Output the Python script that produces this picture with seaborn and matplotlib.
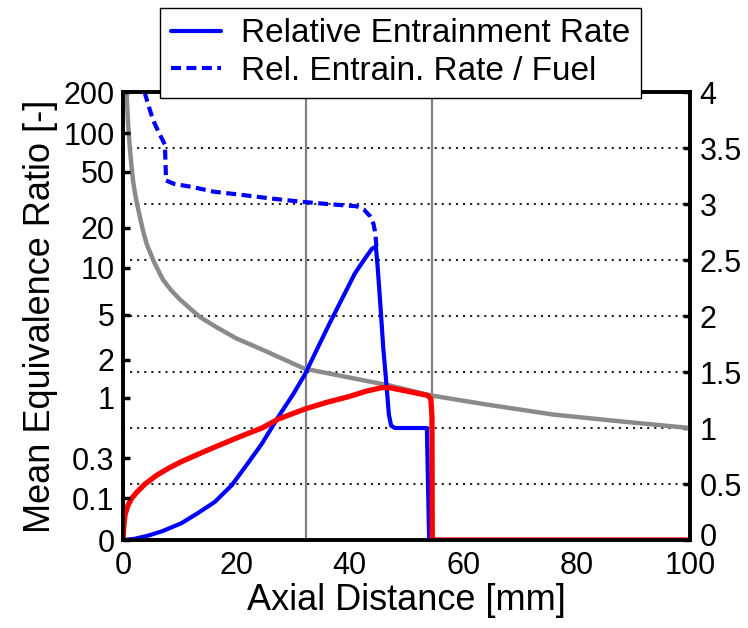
import matplotlib
matplotlib.use("Agg")
import matplotlib.pyplot as plt
import matplotlib.transforms as mtransforms
import seaborn as sns
import pandas as pd
from matplotlib.lines import Line2D

# ---------------- data (right-axis units 0..4, x in mm) ----------------
x_rate = [0, 2, 4.5, 7, 10.3, 13.2, 16.2, 19.2, 22.1, 24.5, 26.2, 27.4, 30, 32.1, 34, 36.5,
          38.5, 40.9, 42.5, 43.9, 44.6, 44.9, 45.4, 45.9, 46.5, 46.9, 47.3, 48.0, 50,
          53.6, 54.0, 60, 80, 100]
rate = [0, 0.01, 0.04, 0.08, 0.15, 0.24, 0.34, 0.49, 0.69, 0.86, 1.0, 1.10, 1.3, 1.48, 1.68, 1.94,
        2.14, 2.38, 2.5, 2.6, 2.62, 2.45, 2.1, 1.72, 1.37, 1.12, 1.02, 1.0, 1.0,
        1.0, 0, 0, 0, 0]

x_rate_fuel = [3.8, 4.5, 5.3, 6.3, 7.4, 7.6, 9, 12.4, 16, 21.2, 26, 31.5, 36, 41.2, 42.5,
               43.6, 44.2, 44.5, 44.7]
rate_fuel = [4.0, 3.88, 3.75, 3.64, 3.53, 3.21, 3.18, 3.15, 3.11, 3.08, 3.05, 3.02, 3.0, 2.98, 2.95,
             2.89, 2.82, 2.74, 2.62]

x_phi = [0.35, 0.65, 0.9, 1.2, 1.5, 1.8, 2.1, 2.4, 3.0, 3.6, 4.2, 5.5, 7.1, 8.5, 10, 12, 13.6,
         16.5, 20, 25, 32, 40, 47, 54.4, 64.1, 75.9, 87.6, 100]
phi = [4.15, 3.97, 3.72, 3.51, 3.34, 3.2, 3.1, 3.02, 2.88, 2.75, 2.64, 2.48, 2.32, 2.23, 2.15, 2.06,
       1.99, 1.90, 1.80, 1.69, 1.53, 1.45, 1.38, 1.29, 1.21, 1.12, 1.06, 1.0]

x_red = [0, 0.15, 0.35, 0.8, 1.5, 2.5, 3.9, 6, 8, 10.3, 13, 16.2, 20, 24.5, 27.4, 32.1, 36,
         39.8, 43, 45.6, 47, 50, 53.8, 54.3, 54.5, 54.55, 60, 80, 100]
red = [0, 0.12, 0.22, 0.3, 0.37, 0.43, 0.5, 0.58, 0.64, 0.70, 0.76, 0.83, 0.91, 1.0, 1.08, 1.17, 1.23,
       1.28, 1.33, 1.36, 1.36, 1.33, 1.29, 1.26, 1.1, 0, 0, 0, 0]

vline_mm = [32.2, 54.5]
x_ticks = [0, 20, 40, 60, 80, 100]
right_ticks = [0, 0.5, 1, 1.5, 2, 2.5, 3, 3.5, 4]
right_labels = ["0", "0.5", "1", "1.5", "2", "2.5", "3", "3.5", "4"]
left_labels = ["0", "0.1", "0.3", "1", "2", "5", "10", "20", "50", "100", "200"]
left_pos = [0, 0.375, 0.73, 1.27, 1.61, 2.01, 2.43, 2.79, 3.29, 3.63, 4.0]
legend_labels = ["Relative Entrainment Rate", "Rel. Entrain. Rate / Fuel"]

# ---------------- style ----------------
sns.set_theme(style="white")
plt.rcParams['font.family'] = ['Liberation Sans', 'DejaVu Sans']
plt.rcParams['text.color'] = 'black'
plt.rcParams['axes.labelcolor'] = 'black'
plt.rcParams['xtick.color'] = 'black'
plt.rcParams['ytick.color'] = 'black'

fig = plt.figure(figsize=(7.48, 6.28), dpi=100)
ax = fig.add_axes([0.1644, 0.1401, 0.7580, 0.7134])
ax2 = ax.twinx()

BLUE = "#0000ff"
RED = "#ff0000"
GRAY = "#8a8a8a"

# vertical reference lines
for v in vline_mm:
    ax.axvline(v, color="#808080", lw=1.6, zorder=1)

# dotted grid lines at right ticks
for t in right_ticks[1:-1]:
    ax.axhline(t, color="#222222", lw=1.5, linestyle=(0, (1, 2.4)), zorder=1)

df_phi = pd.DataFrame({"x": x_phi, "y": phi})
df_rate = pd.DataFrame({"x": x_rate, "y": rate})
df_rf = pd.DataFrame({"x": x_rate_fuel, "y": rate_fuel})
df_red = pd.DataFrame({"x": x_red, "y": red})

sns.lineplot(data=df_phi, x="x", y="y", ax=ax, color=GRAY, lw=3.2, sort=False, estimator=None, zorder=3)
sns.lineplot(data=df_rate, x="x", y="y", ax=ax, color=BLUE, lw=3.0, sort=False, estimator=None, zorder=4)
sns.lineplot(data=df_rf, x="x", y="y", ax=ax, color=BLUE, lw=3.0, sort=False, estimator=None,
             dashes=False, zorder=4).lines[-1].set_dashes((2.4, 1.3))
sns.lineplot(data=df_red, x="x", y="y", ax=ax, color=RED, lw=3.8, sort=False, estimator=None, zorder=5)

ax.set_xlim(0, 100)
ax.set_ylim(0, 4)
ax2.set_ylim(0, 4)

# right axis (main)
ax.yaxis.tick_right()
ax.set_yticks(right_ticks)
ax.set_yticklabels(right_labels)
ax.set_xticks(x_ticks)
ax.set_xticklabels([str(v) for v in x_ticks])
ax.set_xlabel("Axial Distance [mm]", fontsize=26, labelpad=1, color="black")
ax.set_ylabel("")
ax.tick_params(axis="x", direction="in", length=5, width=2.5, labelsize=22, colors="black",
               pad=8)
ax.tick_params(axis="y", direction="in", length=5, width=2.5, labelsize=22, colors="black",
               left=False, right=True, pad=7)

# nudge the right-hand "0" label up slightly so it does not collide with "100"
first_tick = ax.yaxis.get_major_ticks()[0]
first_tick.label2.set_transform(first_tick.label2.get_transform() +
                                mtransforms.ScaledTranslation(0, 4 / 72, fig.dpi_scale_trans))

# left axis (labels of equivalence ratio)
ax2.yaxis.tick_left()
ax2.yaxis.set_label_position("left")
ax2.set_yticks(left_pos)
ax2.set_yticklabels(left_labels)
ax2.set_ylabel("Mean Equivalence Ratio [-]", fontsize=26, labelpad=4, color="black")
ax2.tick_params(axis="y", direction="in", length=5, width=2.5, labelsize=22, colors="black",
                pad=6, right=False, left=True)
ax2.grid(False)
ax.grid(False)

for a in (ax, ax2):
    for s in a.spines.values():
        s.set_color("black")
        s.set_linewidth(2.6)

# legend
handles = [Line2D([], [], color=BLUE, lw=3.0),
           Line2D([], [], color=BLUE, lw=3.0, dashes=(2.4, 1.3))]
leg = fig.legend(handles, legend_labels, loc="upper left", bbox_to_anchor=(0.214, 0.988),
                 frameon=True, fancybox=False, edgecolor="black", framealpha=1, fontsize=24,
                 handlelength=1.5, handletextpad=0.6, borderpad=0.32, labelspacing=0.2,
                 borderaxespad=0)
leg.get_frame().set_linewidth(1.0)
for t in leg.get_texts():
    t.set_color("black")

fig.savefig("out.png", dpi=100)
